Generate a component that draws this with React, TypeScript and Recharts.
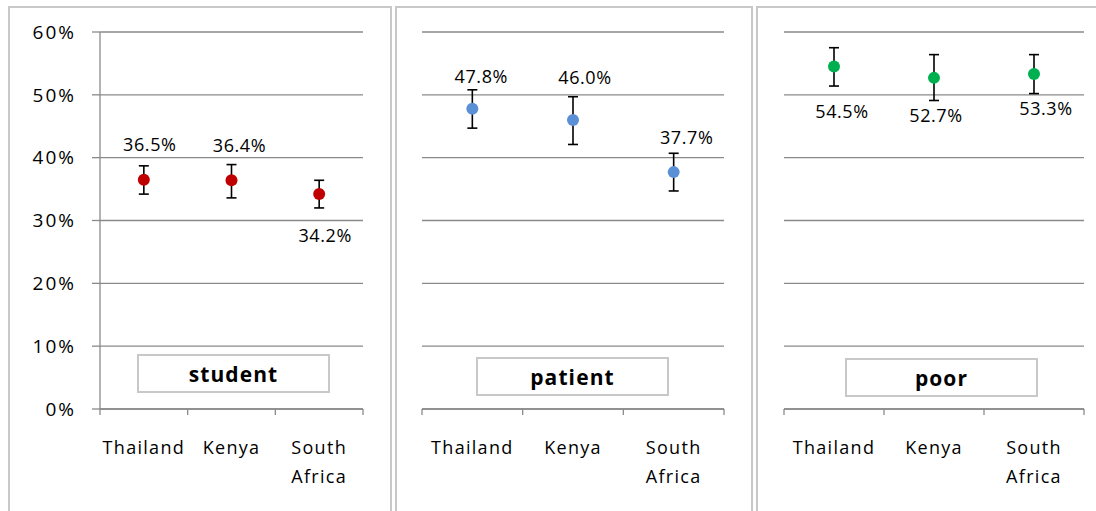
import React from "react";
import { ComposedChart, Line, XAxis, YAxis, CartesianGrid, ErrorBar, LabelList } from "recharts";

const countries = ["Thailand", "Kenya", "South Africa"];
const yTicks = [0, 10, 20, 30, 40, 50, 60];

const studentValues = [36.5, 36.4, 34.2];
const studentErrLow = [2.3, 2.8, 2.2];
const studentErrHigh = [2.2, 2.5, 2.2];

const patientValues = [47.8, 46.0, 37.7];
const patientErrLow = [3.1, 3.9, 3.0];
const patientErrHigh = [3.0, 3.7, 3.0];

const poorValues = [54.5, 52.7, 53.3];
const poorErrLow = [3.1, 3.6, 3.1];
const poorErrHigh = [3.0, 3.7, 3.1];

const FONT = "'Open Sans', 'Noto Sans', sans-serif";
const GRID = "#8a8a8a";
const BORDER = "#c8c8c8";

type Panel = {
  title: string;
  values: number[];
  low: number[];
  high: number[];
  color: string;
  showY: boolean;
  box: { left: number; width: number };
  margin: { left: number; right: number };
  titleBox: { left: number; top: number };
  labelOffsets: [number, number][];
};

const panels: Panel[] = [
  {
    title: "student", values: studentValues, low: studentErrLow, high: studentErrHigh,
    color: "#C00000", showY: true,
    box: { left: 9, width: 382 }, margin: { left: 0, right: 28 },
    titleBox: { left: 137, top: 354 },
    labelOffsets: [[6, -36], [8, -35], [6, 41]],
  },
  {
    title: "patient", values: patientValues, low: patientErrLow, high: patientErrHigh,
    color: "#5B8FD6", showY: false,
    box: { left: 396, width: 356 }, margin: { left: 26, right: 28 },
    titleBox: { left: 476, top: 357 },
    labelOffsets: [[9, -33], [12, -43], [13, -35]],
  },
  {
    title: "poor", values: poorValues, low: poorErrLow, high: poorErrHigh,
    color: "#00B050", showY: false,
    box: { left: 757, width: 339 }, margin: { left: 27, right: 12 },
    titleBox: { left: 845, top: 358 },
    labelOffsets: [[8, 44], [2, 37], [12, 34]],
  },
];

const CHART_TOP = 7;
const CHART_H = 504;
const Y_AXIS_W = 91;
const X_AXIS_H = 102;

function makeTick(bandHalf: number, count: number) {
  return (props: any) => {
    const { x, y, payload, index } = props;
    const words = String(payload.value).split(" ");
    return (
      <g>
        <line x1={x - bandHalf} x2={x - bandHalf} y1={y} y2={y + 6} stroke={GRID} strokeWidth={1.3} />
        {index === count - 1 && (
          <line x1={x + bandHalf} x2={x + bandHalf} y1={y} y2={y + 6} stroke={GRID} strokeWidth={1.3} />
        )}
        <text x={x} y={y + 38} textAnchor="middle" dominantBaseline="central" fontFamily={FONT} fontSize={18} letterSpacing={1.3} fill="#000">
          {words.map((w, i) => (
            <tspan key={i} x={x} dy={i === 0 ? 0 : 29}>{w}</tspan>
          ))}
        </text>
      </g>
    );
  };
}

function PanelChart({ p }: { p: Panel }) {
  const data = countries.map((c, i) => ({
    country: c,
    value: p.values[i],
    err: [p.low[i], p.high[i]],
  }));
  const yW = p.showY ? Y_AXIS_W : 0;
  const plotW = p.box.width - yW - p.margin.left - p.margin.right;
  const bandHalf = plotW / countries.length / 2;
  const renderLabel = (props: any) => {
    const { x, y, value, index } = props;
    const [dx, dy] = p.labelOffsets[index];
    return (
      <text x={x + dx} y={y + dy} textAnchor="middle" dominantBaseline="central" fontFamily={FONT} fontSize={18} letterSpacing={0.6} fill="#000">
        {`${Number(value).toFixed(1)}%`}
      </text>
    );
  };
  return (
    <div style={{ position: "absolute", left: p.box.left, top: CHART_TOP, width: p.box.width, height: CHART_H }}>
      <ComposedChart
        width={p.box.width}
        height={CHART_H}
        data={data}
        margin={{ top: 25, right: p.margin.right, bottom: 0, left: p.margin.left }}
      >
        <CartesianGrid vertical={false} stroke={GRID} strokeWidth={1.3} />
        <XAxis
          dataKey="country"
          scale="band"
          height={X_AXIS_H}
          axisLine={{ stroke: GRID, strokeWidth: 1.3 }}
          tickLine={false}
          tickSize={0}
          tickMargin={0}
          interval={0}
          tick={makeTick(bandHalf, countries.length)}
        />
        <YAxis
          hide={!p.showY}
          width={Y_AXIS_W}
          domain={[0, 60]}
          ticks={yTicks}
          type="number"
          allowDataOverflow
          axisLine={{ stroke: GRID, strokeWidth: 1.3 }}
          tickLine={{ stroke: GRID, strokeWidth: 1.3 }}
          tickSize={8}
          tickMargin={16}
          tickFormatter={(v: number) => `${v}%`}
          tick={{ fontFamily: FONT, fontSize: 19, fill: "#000", letterSpacing: 2 }}
        />
        <Line
          dataKey="value"
          stroke="none"
          isAnimationActive={false}
          dot={{ r: 6, fill: p.color, stroke: p.color, strokeWidth: 0 }}
          activeDot={false}
        >
          <ErrorBar dataKey="err" direction="y" width={5} stroke="#000" strokeWidth={1.6} />
          <LabelList dataKey="value" content={renderLabel} />
        </Line>
      </ComposedChart>
    </div>
  );
}

export default function App() {
  return (
    <div style={{ position: "absolute", left: 0, top: 0, width: 1096, height: 511, overflow: "hidden", background: "#fff" }}>
      <div style={{ position: "absolute", left: 8, top: 6, width: 384, height: 520, border: `2px solid ${BORDER}`, boxSizing: "border-box" }} />
      <div style={{ position: "absolute", left: 395, top: 6, width: 358, height: 520, border: `2px solid ${BORDER}`, boxSizing: "border-box" }} />
      <div style={{ position: "absolute", left: 756, top: 6, width: 360, height: 520, border: `2px solid ${BORDER}`, boxSizing: "border-box" }} />
      {panels.map((p) => (
        <PanelChart key={p.title} p={p} />
      ))}
      {panels.map((p) => (
        <div
          key={p.title + "-t"}
          style={{
            position: "absolute", left: p.titleBox.left, top: p.titleBox.top, width: 193, height: 39,
            border: `2px solid ${BORDER}`, boxSizing: "border-box", background: "#fff",
            display: "flex", alignItems: "center", justifyContent: "center",
            fontFamily: FONT, fontWeight: 700, fontSize: 21, letterSpacing: 1.1, color: "#000",
          }}
        >
          {p.title}
        </div>
      ))}
    </div>
  );
}
